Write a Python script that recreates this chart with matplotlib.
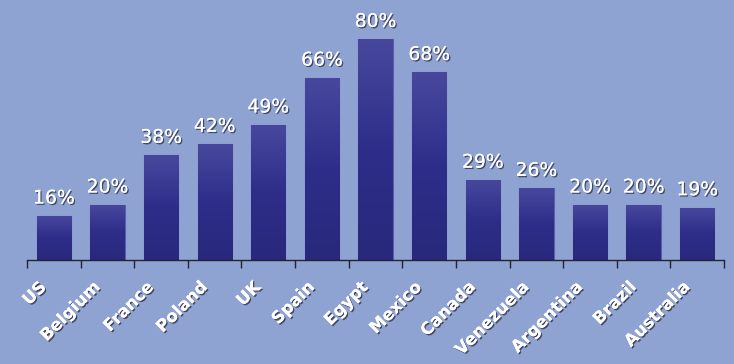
import numpy as np
import matplotlib.pyplot as plt
import matplotlib.patheffects as pe
from matplotlib.colors import LinearSegmentedColormap

countries = ['US', 'Belgium', 'France', 'Poland', 'UK', 'Spain', 'Egypt',
             'Mexico', 'Canada', 'Venezuela', 'Argentina', 'Brazil', 'Australia']
values = [16, 20, 38, 42, 49, 66, 80, 68, 29, 26, 20, 20, 19]

bg = '#8fa3d3'
fig = plt.figure(figsize=(7.34, 3.64), dpi=100, facecolor=bg)
ax = fig.add_axes([0.0368, 0.2857, 0.9496, 0.7143])
ax.set_facecolor(bg)

x = np.arange(len(countries))
bars = ax.bar(x, values, width=0.64, color='#2f2f86', edgecolor='#5b5fae', linewidth=0.8, zorder=2)

# vertical gradient inside each bar
cmap = LinearSegmentedColormap.from_list('g', ['#28287c', '#2e2e8a', '#47489d'])
grad = np.linspace(0, 1, 256).reshape(-1, 1)
for b in bars:
    x0, w, h = b.get_x(), b.get_width(), b.get_height()
    im = ax.imshow(grad, cmap=cmap, origin='lower', aspect='auto',
                   extent=(x0, x0 + w, 0, h), zorder=2.5)
    im.set_clip_path(b)

shadow = [pe.withSimplePatchShadow(offset=(1, -1), shadow_rgbFace='#333344', alpha=0.8), pe.Normal()]
for xi, v in zip(x, values):
    ax.annotate(f'{v}%', (xi, v), xytext=(0, 6), textcoords='offset points',
                ha='center', va='bottom', color='white', fontsize=13.5,
                path_effects=shadow, zorder=3)

for xi, name in zip(x, countries):
    ax.annotate(name, (xi, 0), xytext=(-12, -13), textcoords='offset points',
                ha='right', va='top', rotation=45, rotation_mode='anchor',
                color='white', fontsize=12, fontweight='bold',
                path_effects=shadow, annotation_clip=False)

ax.set_xlim(-0.5, len(countries) - 0.5)
ax.set_ylim(0, 94.2)
ax.set_xticks(np.arange(-0.5, len(countries), 1))
ax.set_xticklabels([])
ax.tick_params(axis='x', direction='out', length=6, width=1, color='#222233')
ax.set_yticks([])
for s in ['top', 'right', 'left']:
    ax.spines[s].set_visible(False)
ax.spines['bottom'].set_color('#222233')
ax.spines['bottom'].set_linewidth(1)

fig.savefig('out.png', dpi=100, facecolor=bg)
